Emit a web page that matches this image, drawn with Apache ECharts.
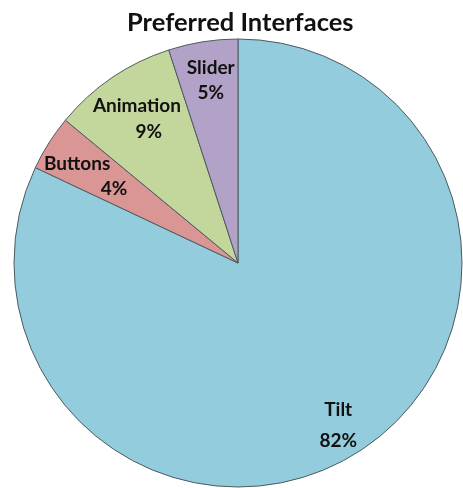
<!DOCTYPE html>
<html>
<head>
<meta charset="utf-8">
<script src="https://cdn.jsdelivr.net/npm/echarts@6/dist/echarts.min.js"></script>
<style>
  html, body { margin: 0; padding: 0; background: #ffffff; }
  #chart { width: 463px; height: 488px; }
</style>
</head>
<body>
<div id="chart"></div>
<script>
// Share of participants preferring each interface (percent)
const categories = ['Tilt', 'Buttons', 'Animation', 'Slider'];
const shares = [82, 4, 9, 5];
const sliceColors = ['#93CDDD', '#D99694', '#C3D69B', '#B3A2C7'];

const chart = echarts.init(document.getElementById('chart'));

const pieData = categories.map((name, i) => ({
  name: name,
  value: shares[i],
  itemStyle: { color: sliceColors[i] }
}));

// Per-slice label tweaks: line spacing, nudge, and how far the
// percentage line is shifted right of the name (px)
const labelTweaks = {
  Tilt: { lineHeight: 31, offset: [0, 4], shift: 0 },
  Buttons: { lineHeight: 25, offset: [-3, 14], shift: 37 },
  Animation: { lineHeight: 26, offset: [4, 11], shift: 12 },
  Slider: { lineHeight: 25, offset: [2, 2], shift: 0 }
};

const baseText = {
  fontFamily: 'Lato',
  fontWeight: 'bold',
  fontSize: 19,
  color: '#111111'
};

// Labels sit on a transparent ring so they land ~4/5 of the way out
const labelData = categories.map((name, i) => {
  const t = labelTweaks[name];
  return {
    name: name,
    value: shares[i],
    label: {
      offset: t.offset,
      rich: {
        n: Object.assign({ lineHeight: t.lineHeight }, baseText),
        p: Object.assign({ lineHeight: t.lineHeight, padding: [0, 0, 0, 2 * t.shift] }, baseText)
      }
    }
  };
});

const center = [238, 263];
const radius = 224;

chart.setOption({
  animation: false,
  title: {
    text: 'Preferred Interfaces',
    left: 122,
    top: 5,
    textStyle: {
      fontFamily: 'Lato',
      fontWeight: 'bold',
      fontSize: 25.5,
      color: '#111111'
    }
  },
  series: [
    {
      type: 'pie',
      center: center,
      radius: [0, radius],
      startAngle: 90,
      clockwise: true,
      silent: true,
      data: pieData,
      label: { show: false },
      labelLine: { show: false },
      itemStyle: { borderColor: '#4d5a60', borderWidth: 1 }
    },
    {
      type: 'pie',
      center: center,
      radius: [144, radius],
      startAngle: 90,
      clockwise: true,
      silent: true,
      data: labelData,
      itemStyle: { color: 'rgba(0,0,0,0)', borderWidth: 0 },
      label: Object.assign({
        show: true,
        position: 'inside',
        formatter: p => '{n|' + p.name + '}\n{p|' + p.value + '%}'
      }, baseText),
      labelLine: { show: false }
    }
  ]
});
</script>
</body>
</html>
